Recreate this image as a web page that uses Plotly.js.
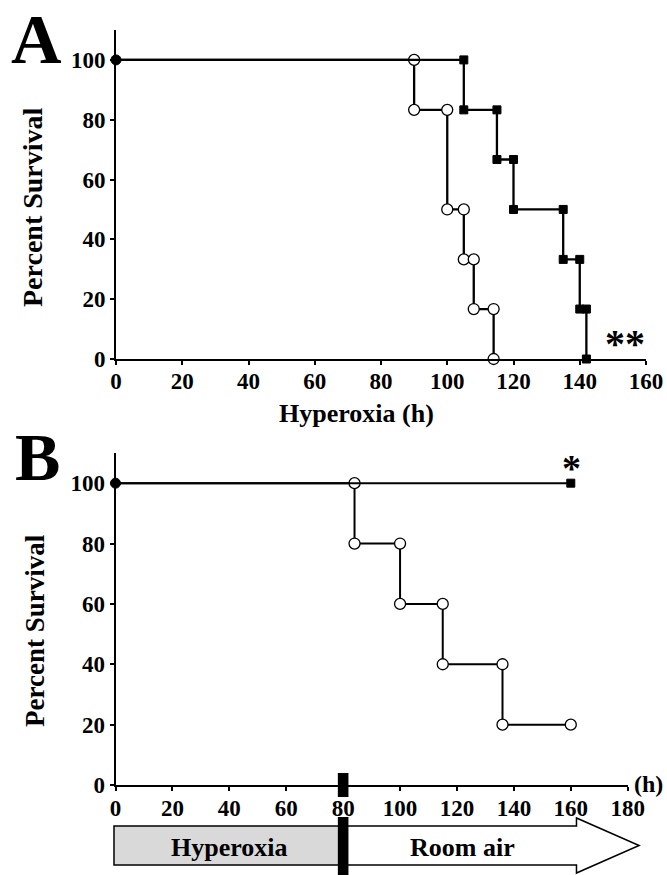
<!DOCTYPE html>
<html>
<head>
<meta charset="utf-8">
<script src="https://cdn.plot.ly/plotly-3.0.1.min.js"></script>
<style>html,body{margin:0;padding:0;background:#fff;}#chart{width:667px;height:875px;}</style>
</head>
<body>
<div id="chart"></div>
<script>
// ---------- DATA ----------
// Panel A: hyperoxia survival (event times in h, survival after each event in %)
var timesA_open = [0, 90, 100, 105, 108, 114];
var survA_open  = [100, 83.3, 50, 33.3, 16.7, 0];
var timesA_fill = [0, 105, 115, 120, 135, 140, 142];
var survA_fill  = [100, 83.3, 66.7, 50, 33.3, 16.7, 0];
// Panel B: 80 h hyperoxia followed by room air recovery
var timesB_open = [0, 84, 100, 115, 136];
var survB_open  = [100, 80, 60, 40, 20];
var endB_open   = 160;
var timesB_fill = [0];
var survB_fill  = [100];
var endB_fill   = 160;
// axes
var ticksA_x = [0, 20, 40, 60, 80, 100, 120, 140, 160];
var ticksB_x = [0, 20, 40, 60, 80, 100, 120, 140, 160, 180];
var ticksY   = [0, 20, 40, 60, 80, 100];
// phases of panel B (h)
var phaseLabels = ['Hyperoxia', 'Room air'];
var phaseBounds = [0, 80, 184];
var sigA = '**', sigB = '*';

// ---------- helpers ----------
var W = 667, H = 875;
function px(x){ return x / W; }
function py(y){ return 1 - y / H; }
// build Kaplan-Meier step coordinates
function steps(t, s, endT){
  var xs = [t[0]], ys = [s[0]];
  for (var i = 1; i < t.length; i++){
    xs.push(t[i]); ys.push(s[i-1]);
    xs.push(t[i]); ys.push(s[i]);
  }
  if (endT !== undefined){ xs.push(endT); ys.push(s[s.length-1]); }
  return {x: xs, y: ys};
}

var FONT = 'Liberation Serif, Times New Roman, serif';

var aOpen = steps(timesA_open, survA_open);
var aFill = steps(timesA_fill, survA_fill);
var bOpen = steps(timesB_open, survB_open, endB_open);
var bFill = steps(timesB_fill, survB_fill, endB_fill);

function openTrace(d, xa, ya, lw){
  var sz = d.x.map(function(v, i){ return i === 0 ? 0 : 11; });
  return {x: d.x, y: d.y, xaxis: xa, yaxis: ya, type: 'scatter', mode: 'lines+markers',
    cliponaxis: false, line: {color: '#000', width: lw},
    marker: {symbol: 'circle', size: sz, color: '#fff', opacity: 1, line: {color: '#000', width: 1.3}}};
}
function fillTrace(d, xa, ya, lw){
  var sym = d.x.map(function(v, i){ return i === 0 ? 'circle' : 'square'; });
  var sz = d.x.map(function(v, i){ return i === 0 ? 10 : 8; });
  return {x: d.x, y: d.y, xaxis: xa, yaxis: ya, type: 'scatter', mode: 'lines+markers',
    cliponaxis: false, line: {color: '#000', width: lw},
    marker: {symbol: sym, size: sz, color: '#000', opacity: 1, line: {color: '#000', width: 1}}};
}

var data = [
  openTrace(aOpen, 'x', 'y', 2.3),
  fillTrace(aFill, 'x', 'y', 2.3),
  openTrace(bOpen, 'x2', 'y2', 2),
  fillTrace(bFill, 'x2', 'y2', 2)
];

// pixel geometry of panel B x axis for the timeline diagram
var bx0 = 115.5, bx1 = 627.7, bRange = [0, 180];
function xB(v){ return px(bx0 + (v - bRange[0]) / (bRange[1] - bRange[0]) * (bx1 - bx0)); }

var axisCommon = {
  showline: true, linecolor: '#000', linewidth: 2, showgrid: false, zeroline: false,
  ticks: 'outside', ticklen: 4, tickwidth: 2, tickcolor: '#000', tickmode: 'array',
  tickfont: {family: FONT, size: 23, color: '#000', weight: 'bold'}, fixedrange: true
};
function ax(extra){ var o = {}; for (var k in axisCommon) o[k] = axisCommon[k]; for (var k2 in extra) o[k2] = extra[k2]; return o; }

var shaftTop = 826, shaftBot = 865, headTop = 818, headBot = 873, headMid = 845.5;
var headStart = 162;
var arrowPath = 'M' + xB(phaseBounds[1]) + ',' + py(shaftTop) +
  ' L' + xB(headStart) + ',' + py(shaftTop) +
  ' L' + xB(headStart) + ',' + py(headTop) +
  ' L' + xB(phaseBounds[2]) + ',' + py(headMid) +
  ' L' + xB(headStart) + ',' + py(headBot) +
  ' L' + xB(headStart) + ',' + py(shaftBot) +
  ' L' + xB(phaseBounds[1]) + ',' + py(shaftBot) + ' Z';

var barHalf = 5.3 / W;
var shapes = [
  {type: 'rect', xref: 'paper', yref: 'paper', x0: xB(phaseBounds[0]) - 1.5 / W, x1: xB(phaseBounds[1]),
   y0: py(shaftBot), y1: py(shaftTop), fillcolor: '#d9d9d9', line: {color: '#000', width: 1.5}, layer: 'above'},
  {type: 'path', xref: 'paper', yref: 'paper', path: arrowPath, fillcolor: '#fff', line: {color: '#000', width: 1.5}, layer: 'above'},
  {type: 'rect', xref: 'paper', yref: 'paper', x0: xB(phaseBounds[1]) - barHalf, x1: xB(phaseBounds[1]) + barHalf,
   y0: py(797), y1: py(773), fillcolor: '#000', line: {width: 0}, layer: 'above'},
  {type: 'rect', xref: 'paper', yref: 'paper', x0: xB(phaseBounds[1]) - barHalf, x1: xB(phaseBounds[1]) + barHalf,
   y0: py(875), y1: py(817), fillcolor: '#000', line: {width: 0}, layer: 'above'}
];

function txt(text, x, y, size, extra){
  var a = {text: text, xref: 'paper', yref: 'paper', x: px(x), y: py(y), xanchor: 'center', yanchor: 'middle',
    showarrow: false, font: {family: FONT, size: size, color: '#000', weight: 'bold'}};
  if (extra) for (var k in extra) a[k] = extra[k];
  return a;
}

var annotations = [
  txt('A', 36, 40, 70),
  txt('B', 37, 457, 68),
  txt('Percent Survival', 33, 207, 28, {textangle: -90}),
  txt('Percent Survival', 35, 631, 27, {textangle: -90}),
  txt('Hyperoxia (h)', 356, 413, 26),
  txt('(h)', 648, 784, 24),
  txt(sigA, 625, 343, 40),
  txt(sigB, 571, 468, 38),
  txt(phaseLabels[0], (xB(phaseBounds[0]) + xB(phaseBounds[1])) / 2 * W, 847, 26),
  txt(phaseLabels[1], 462, 847, 26)
];

var layout = {
  width: W, height: H, margin: {l: 0, r: 0, t: 0, b: 0},
  paper_bgcolor: '#fff', plot_bgcolor: 'rgba(0,0,0,0)', showlegend: false,
  xaxis: ax({domain: [px(116), px(646)], range: [0, 160], tickvals: ticksA_x, anchor: 'y', ticklabelstandoff: -4}),
  yaxis: ax({domain: [py(359), py(30)], range: [0, 110], tickvals: ticksY, anchor: 'x'}),
  xaxis2: ax({domain: [px(bx0), px(bx1)], range: bRange, tickvals: ticksB_x, anchor: 'y2', ticklabelstandoff: -3}),
  yaxis2: ax({domain: [py(785), py(453)], range: [0, 110], tickvals: ticksY, anchor: 'x2'}),
  shapes: shapes, annotations: annotations
};

Plotly.newPlot('chart', data, layout, {displayModeBar: false, staticPlot: true});
</script>
</body>
</html>
